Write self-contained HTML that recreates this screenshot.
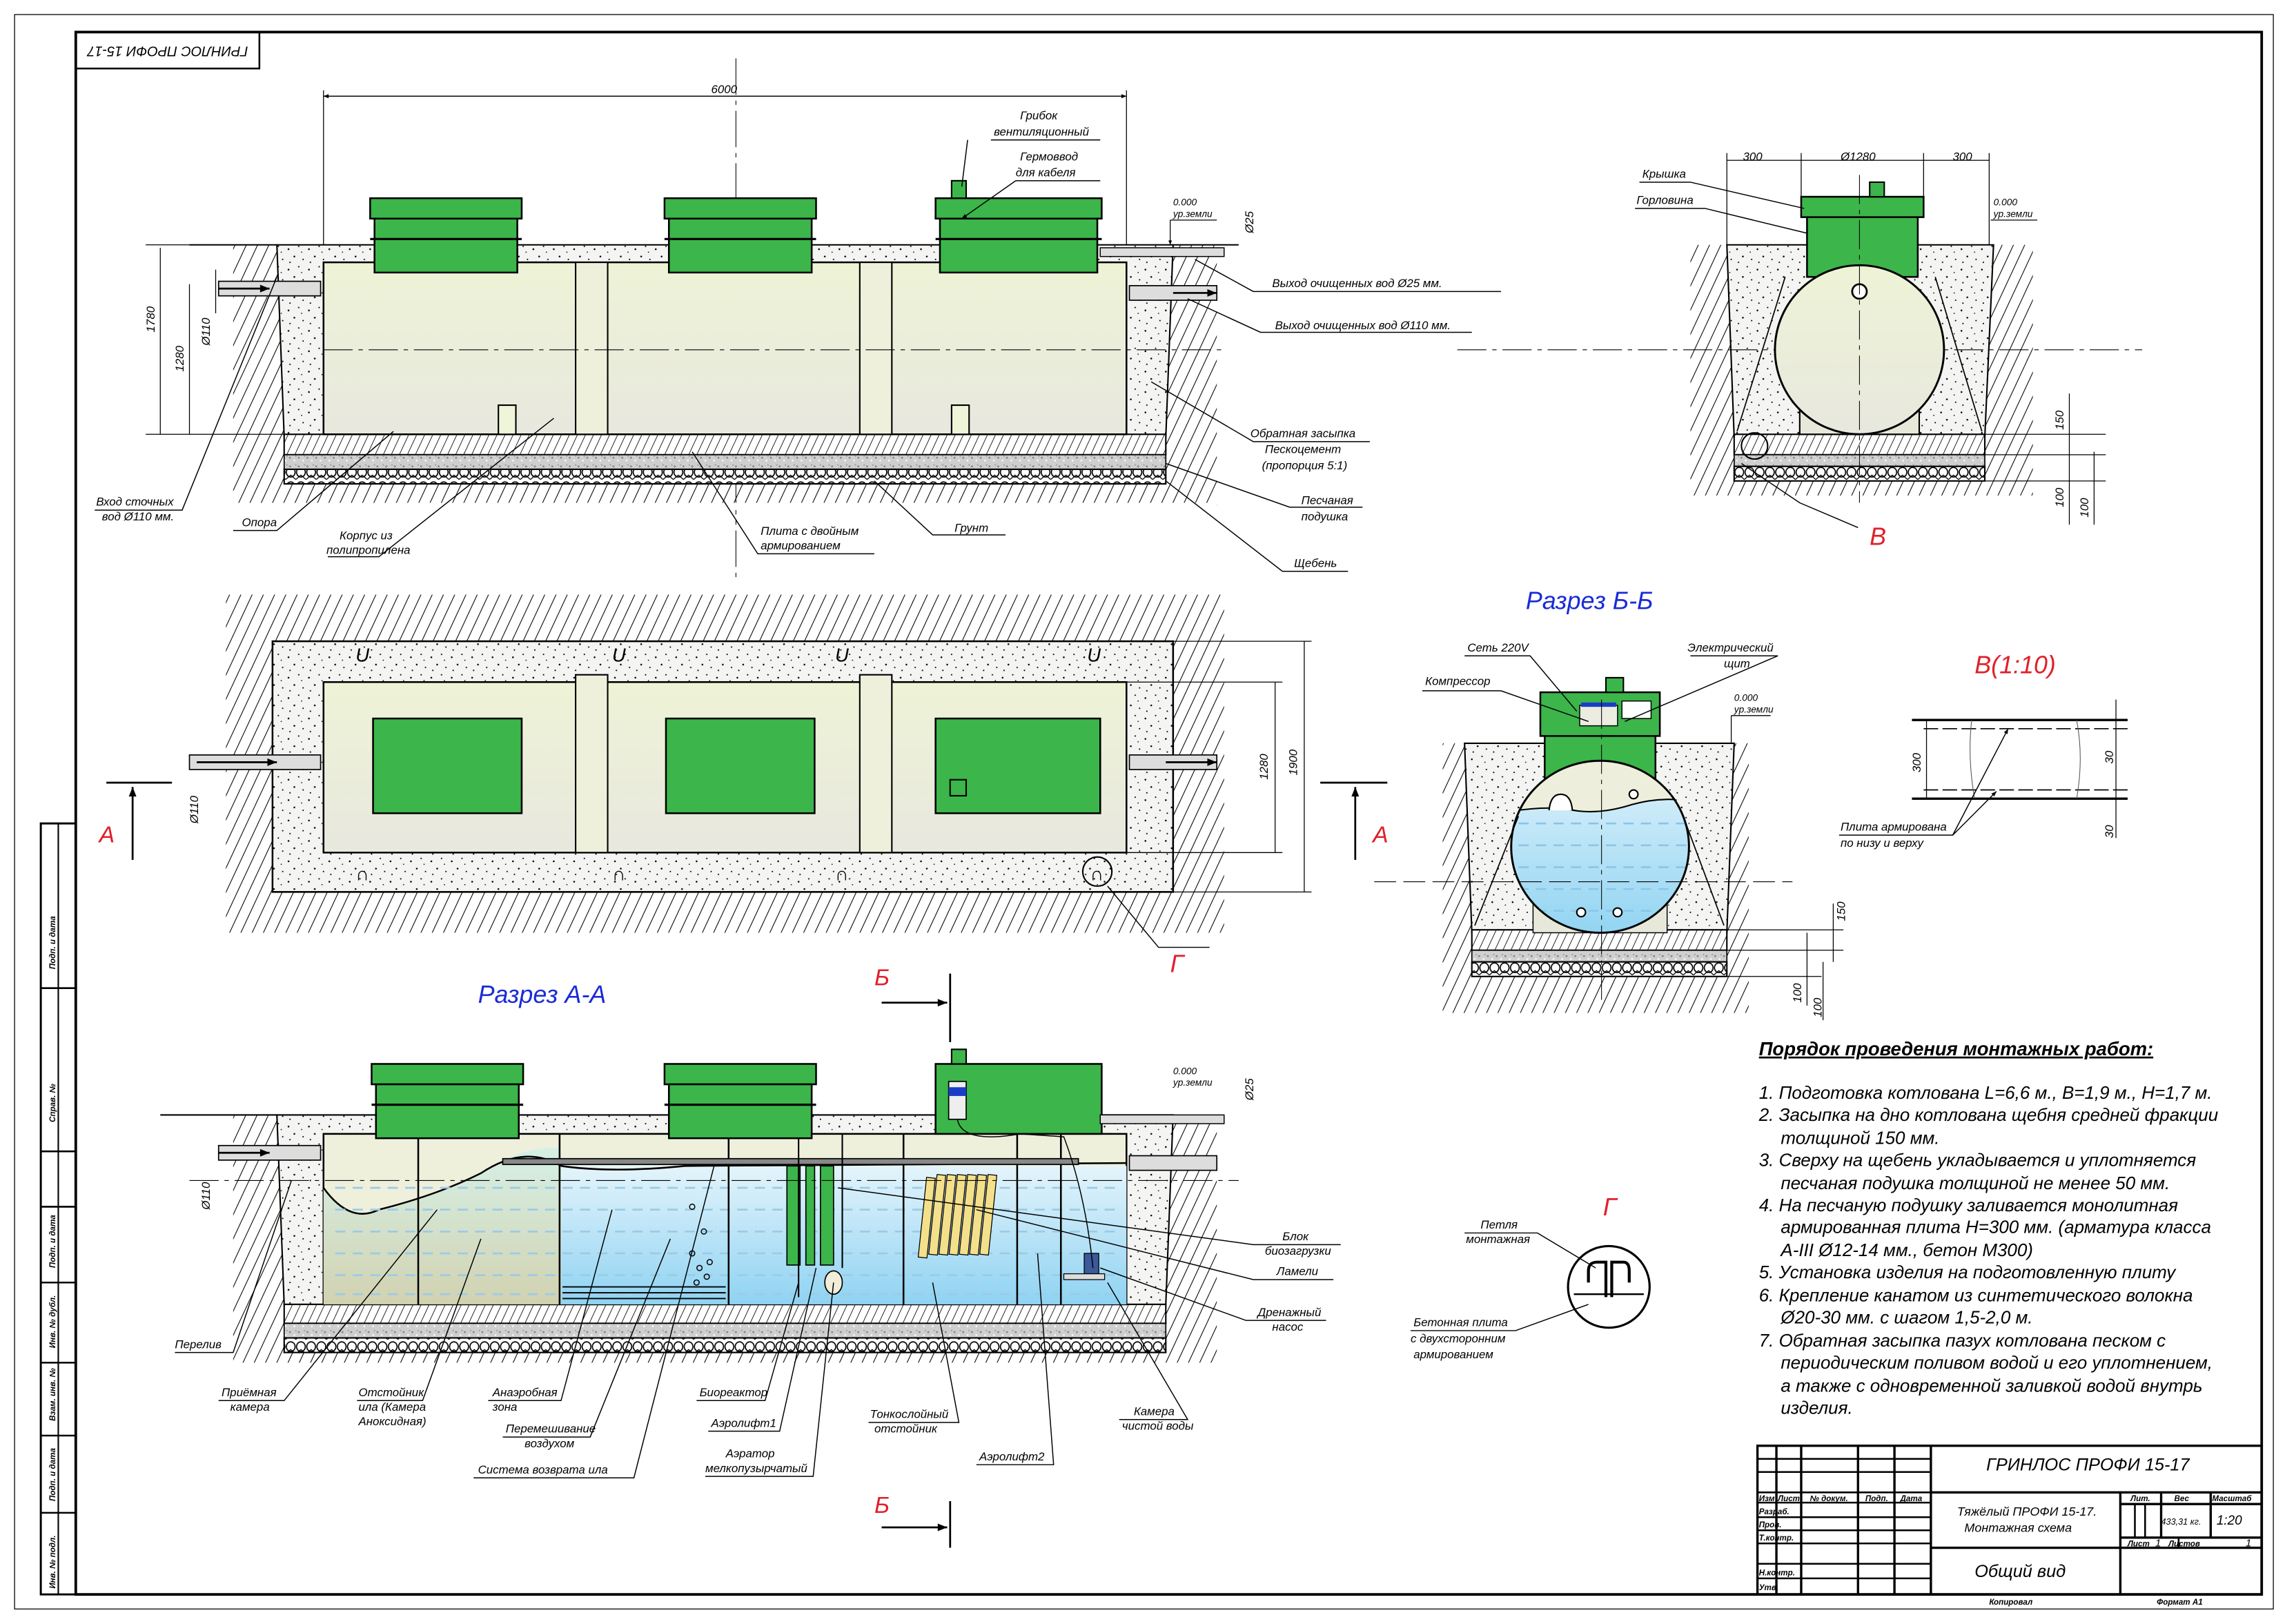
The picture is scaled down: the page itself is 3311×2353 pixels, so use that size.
<!DOCTYPE html>
<html><head><meta charset="utf-8"><style>
html,body{margin:0;padding:0;background:#fff}
svg{display:block}
text{font-family:"Liberation Sans",sans-serif;font-style:italic;fill:#000}
</style></head><body>
<svg width="3311" height="2353" viewBox="0 0 1568 1114.3" preserveAspectRatio="none" xmlns="http://www.w3.org/2000/svg">
<defs>
<pattern id="hat" width="7" height="7" patternUnits="userSpaceOnUse" patternTransform="rotate(25)"><line x1="0" y1="0" x2="0" y2="7" stroke="#000" stroke-width="1"/></pattern>
<pattern id="slab" width="5" height="5" patternUnits="userSpaceOnUse" patternTransform="rotate(25)"><rect width="5" height="5" fill="#fff"/><line x1="0" y1="0" x2="0" y2="5" stroke="#000" stroke-width="0.8"/></pattern>
<pattern id="dots" width="14" height="14" patternUnits="userSpaceOnUse"><rect width="14" height="14" fill="#f4f4f2"/><circle cx="2" cy="3" r=".6"/><circle cx="9" cy="1" r=".5"/><circle cx="6" cy="8" r=".6"/><circle cx="12" cy="10" r=".5"/><circle cx="3" cy="12" r=".5"/><circle cx="11" cy="5" r=".4"/></pattern>
<pattern id="sand" width="6" height="6" patternUnits="userSpaceOnUse"><rect width="6" height="6" fill="#cfcfcf"/><circle cx="1" cy="2" r=".7" fill="#888"/><circle cx="4" cy="4" r=".6" fill="#fff"/><circle cx="5" cy="1" r=".5" fill="#999"/></pattern>
<pattern id="grav" width="7" height="10" patternUnits="userSpaceOnUse"><rect width="7" height="10" fill="#fff"/><ellipse cx="3.5" cy="4" rx="3" ry="3.3" fill="none" stroke="#000" stroke-width=".8"/><path d="M0 9 L3.5 6 L7 9" fill="none" stroke="#000" stroke-width=".6"/></pattern>
<linearGradient id="body" x1="0" y1="0" x2="0" y2="1"><stop offset="0" stop-color="#eef3d6"/><stop offset="1" stop-color="#e8e8de"/></linearGradient>
<linearGradient id="water" x1="0" y1="0" x2="0" y2="1"><stop offset="0" stop-color="#e4f4fb"/><stop offset="1" stop-color="#8fd3f2"/></linearGradient>
<linearGradient id="sludge" x1="0" y1="0" x2="0" y2="1"><stop offset="0" stop-color="#d6f0e6"/><stop offset="1" stop-color="#d2d2b0"/></linearGradient>
<clipPath id="ell"><ellipse cx="1098" cy="581" rx="61" ry="59"/></clipPath>
<marker id="ar" viewBox="0 0 10 10" refX="10" refY="5" markerWidth="7" markerHeight="5" orient="auto-start-reverse"><path d="M0 1L10 5L0 9z"/></marker>
<g id="lid"><rect x="0" y="0" width="104" height="14" fill="#3cb54a" stroke="#000" stroke-width="1.2"/><rect x="3" y="14" width="98" height="37" fill="#3cb54a" stroke="#000" stroke-width="1.2"/><line x1="0" y1="28" x2="104" y2="28" stroke="#000" stroke-width="1.5"/></g>
</defs>

<!-- frame -->
<rect x="10" y="10" width="1550" height="1094" fill="none" stroke="#000" stroke-width=".6"/>
<rect x="52" y="22" width="1500" height="1072" fill="none" stroke="#000" stroke-width="1.8"/>
<rect x="52" y="22" width="126" height="25" fill="none" stroke="#000" stroke-width="1.2"/>
<text x="115" y="38" font-size="9.5" text-anchor="middle" transform="rotate(180 115 35)">ГРИНЛОС ПРОФИ 15-17</text>
<rect x="28" y="565" width="24" height="529" fill="none" stroke="#000" stroke-width="1.4"/>
<line x1="40" y1="565" x2="40" y2="1094" stroke="#000" stroke-width="1"/>
<g stroke="#000" stroke-width="1.2"><line x1="28" y1="678" x2="52" y2="678"/><line x1="28" y1="790" x2="52" y2="790"/><line x1="28" y1="828" x2="52" y2="828"/><line x1="28" y1="880" x2="52" y2="880"/><line x1="28" y1="935" x2="52" y2="935"/><line x1="28" y1="985" x2="52" y2="985"/><line x1="28" y1="1038" x2="52" y2="1038"/></g>
<g font-size="5.5" font-weight="bold"><text transform="translate(38 665) rotate(-90)">Подп. и дата</text><text transform="translate(38 770) rotate(-90)">Справ. №</text><text transform="translate(38 870) rotate(-90)">Подп. и дата</text><text transform="translate(38 925) rotate(-90)">Инв. № дубл.</text><text transform="translate(38 975) rotate(-90)">Взам. инв. №</text><text transform="translate(38 1030) rotate(-90)">Подп. и дата</text><text transform="translate(38 1090) rotate(-90)">Инв. № подл.</text></g>

<!-- ===== SECTION 1 (top) ===== -->
<line x1="505" y1="40" x2="505" y2="400" stroke="#000" stroke-width=".5" stroke-dasharray="25 4 3 4"/>
<line x1="222" y1="62" x2="222" y2="180" stroke="#000" stroke-width=".6"/><line x1="773" y1="62" x2="773" y2="180" stroke="#000" stroke-width=".6"/>
<line x1="222" y1="66" x2="773" y2="66" stroke="#000" stroke-width=".7" marker-start="url(#ar)" marker-end="url(#ar)"/>
<text x="488" y="64" font-size="8">6000</text>
<rect x="160" y="168" width="675" height="180" fill="url(#hat)"/>
<rect x="160" y="345" width="675" height="5" fill="#fff"/>
<polygon points="190,168 805,168 800,300 195,300" fill="url(#dots)" stroke="#000" stroke-width="1"/>
<rect x="195" y="298" width="605" height="14" fill="url(#slab)" stroke="#000" stroke-width="1"/>
<rect x="195" y="312" width="605" height="10" fill="url(#sand)" stroke="#000" stroke-width=".8"/>
<rect x="195" y="322" width="605" height="10" fill="url(#grav)" stroke="#000" stroke-width="1"/>
<rect x="222" y="180" width="551" height="118" fill="url(#body)" stroke="#000" stroke-width="1.2"/>
<rect x="395" y="180" width="22" height="118" fill="#eef0dc" stroke="#000" stroke-width="1"/>
<rect x="590" y="180" width="22" height="118" fill="#eef0dc" stroke="#000" stroke-width="1"/>
<rect x="342" y="278" width="12" height="20" fill="#eef5d8" stroke="#000"/><rect x="653" y="278" width="12" height="20" fill="#eef5d8" stroke="#000"/>
<line x1="222" y1="240" x2="840" y2="240" stroke="#000" stroke-width=".5" stroke-dasharray="20 4 3 4"/>
<use href="#lid" x="254" y="136"/><use href="#lid" x="456" y="136"/>
<rect x="642" y="136" width="114" height="14" fill="#3cb54a" stroke="#000" stroke-width="1.2"/><rect x="645" y="150" width="108" height="37" fill="#3cb54a" stroke="#000" stroke-width="1.2"/><line x1="642" y1="164" x2="756" y2="164" stroke="#000" stroke-width="1.5"/>
<rect x="653" y="124" width="10" height="12" fill="#3cb54a" stroke="#000"/>
<rect x="150" y="193" width="70" height="10" fill="#ddd" stroke="#000" stroke-width=".8"/><line x1="150" y1="198" x2="185" y2="198" stroke="#000" stroke-width="1.3" marker-end="url(#ar)"/>
<rect x="775" y="196" width="60" height="10" fill="#ddd" stroke="#000" stroke-width=".8"/><line x1="805" y1="201" x2="835" y2="201" stroke="#000" stroke-width="1.3" marker-end="url(#ar)"/>
<rect x="755" y="170" width="85" height="6" fill="#ddd" stroke="#000" stroke-width=".7"/>
<line x1="130" y1="168" x2="190" y2="168" stroke="#000" stroke-width="1"/><line x1="805" y1="168" x2="850" y2="168" stroke="#000" stroke-width="1"/>
<g stroke="#000" stroke-width=".6"><line x1="110" y1="170" x2="110" y2="298"/><line x1="130" y1="195" x2="130" y2="298"/><line x1="148" y1="185" x2="148" y2="215"/><line x1="100" y1="168" x2="190" y2="168"/><line x1="100" y1="298" x2="195" y2="298"/></g>
<text font-size="8" transform="translate(106 228) rotate(-90)">1780</text>
<text font-size="8" transform="translate(126 255) rotate(-90)">1280</text>
<text font-size="8" transform="translate(144 237) rotate(-90)">Ø110</text>
<text font-size="8" transform="translate(860 160) rotate(-90)">Ø25</text>
<text x="805" y="141" font-size="6.5">0.000</text><text x="805" y="149" font-size="6.5">ур.земли</text>
<line x1="803" y1="151" x2="835" y2="151" stroke="#000" stroke-width=".6"/><line x1="803" y1="151" x2="803" y2="168" stroke="#000" stroke-width=".6" marker-end="url(#ar)"/>
<g font-size="8">
<text x="700" y="82">Грибок</text><text x="682" y="93">вентиляционный</text>
<text x="700" y="110">Гермоввод</text><text x="697" y="121">для кабеля</text>
<text x="873" y="197">Выход очищенных вод Ø25 мм.</text>
<text x="875" y="226">Выход очищенных вод Ø110 мм.</text>
<text x="858" y="300">Обратная засыпка</text><text x="868" y="311">Пескоцемент</text><text x="866" y="322">(пропорция 5:1)</text>
<text x="893" y="346">Песчаная</text><text x="893" y="357">подушка</text>
<text x="888" y="389">Щебень</text>
<text x="655" y="365">Грунт</text>
<text x="522" y="367">Плита с двойным</text><text x="522" y="377">армированием</text>
<text x="233" y="370">Корпус из</text><text x="224" y="380">полипропилена</text>
<text x="166" y="361">Опора</text>
<text x="66" y="347">Вход сточных</text><text x="70" y="357">вод Ø110 мм.</text>
</g>
<g stroke="#000" stroke-width=".7" fill="none">
<polyline points="680,96 755,96"/><polyline points="697,124 755,124"/><line x1="664" y1="96" x2="660" y2="128"/><line x1="697" y1="124" x2="660" y2="150" marker-end="url(#ar)"/>
<polyline points="820,178 860,200 1030,200"/><polyline points="815,205 865,228 1010,228"/>
<polyline points="790,262 860,303 940,303"/><polyline points="800,318 885,348 935,348"/><polyline points="800,330 880,392 925,392"/>
<polyline points="600,330 640,367 690,367"/><polyline points="475,310 520,380 600,380"/><polyline points="380,287 260,382 225,382"/><polyline points="270,296 190,364 160,364"/><polyline points="190,190 125,350 65,350"/>
</g>

<!-- ===== RIGHT TOP ===== -->
<rect x="1160" y="168" width="235" height="180" fill="url(#hat)"/>
<rect x="1160" y="340" width="240" height="10" fill="#fff"/>
<polygon points="1185,168 1368,168 1362,300 1190,300" fill="url(#dots)" stroke="#000"/>
<rect x="1190" y="298" width="172" height="14" fill="url(#slab)" stroke="#000"/>
<rect x="1190" y="312" width="172" height="8" fill="url(#sand)" stroke="#000" stroke-width=".8"/>
<rect x="1190" y="320" width="172" height="10" fill="url(#grav)" stroke="#000"/>
<line x1="1000" y1="240" x2="1470" y2="240" stroke="#000" stroke-width=".5" stroke-dasharray="20 4 3 4"/>
<rect x="1240" y="140" width="76" height="50" fill="#3cb54a" stroke="#000" stroke-width="1.2"/>
<rect x="1236" y="135" width="84" height="14" fill="#3cb54a" stroke="#000" stroke-width="1.2"/>
<rect x="1283" y="125" width="10" height="10" fill="#3cb54a" stroke="#000"/>
<rect x="1235" y="268" width="82" height="30" fill="#e8e8da" stroke="#000"/>
<circle cx="1276" cy="240" r="58" fill="url(#body)" stroke="#000" stroke-width="1.4"/>
<circle cx="1276" cy="200" r="5" fill="#fff" stroke="#000" stroke-width="1.3"/>
<line x1="1276" y1="120" x2="1276" y2="345" stroke="#000" stroke-width=".5" stroke-dasharray="20 4 3 4"/>
<line x1="1192" y1="296" x2="1225" y2="190" stroke="#000" stroke-width=".8"/><line x1="1360" y1="296" x2="1328" y2="190" stroke="#000" stroke-width=".8"/>
<circle cx="1204" cy="306" r="9" fill="none" stroke="#000" stroke-width="1"/>
<g stroke="#000" stroke-width=".6"><line x1="1185" y1="110" x2="1365" y2="110"/><line x1="1185" y1="105" x2="1185" y2="168"/><line x1="1236" y1="105" x2="1236" y2="135"/><line x1="1320" y1="105" x2="1320" y2="135"/><line x1="1365" y1="105" x2="1365" y2="168"/>
<line x1="1362" y1="298" x2="1445" y2="298"/><line x1="1362" y1="312" x2="1445" y2="312"/><line x1="1362" y1="330" x2="1445" y2="330"/><line x1="1420" y1="270" x2="1420" y2="360"/><line x1="1437" y1="310" x2="1437" y2="360"/></g>
<g font-size="8"><text x="1196" y="110">300</text><text x="1263" y="110">Ø1280</text><text x="1340" y="110">300</text>
<text transform="translate(1416 295) rotate(-90)">150</text><text transform="translate(1416 348) rotate(-90)">100</text><text transform="translate(1433 355) rotate(-90)">100</text>
<text x="1127" y="122">Крышка</text><text x="1123" y="140">Горловина</text></g>
<g stroke="#000" stroke-width=".7" fill="none"><polyline points="1125,125 1160,125 1238,143"/><polyline points="1122,143 1170,143 1240,160"/><polyline points="1195,318 1235,345 1275,362"/></g>
<text x="1368" y="141" font-size="6.5">0.000</text><text x="1368" y="149" font-size="6.5">ур.земли</text>
<line x1="1366" y1="151" x2="1398" y2="151" stroke="#000" stroke-width=".6"/>
<text x="1283" y="374" font-size="17" style="fill:#e0202a">В</text>
<text x="1047" y="418" font-size="17" style="fill:#1a2bd6">Разрез Б-Б</text>

<!-- ===== SECTION 2 plan ===== -->
<rect x="155" y="408" width="685" height="232" fill="url(#hat)"/>
<rect x="187" y="440" width="618" height="172" fill="url(#dots)" stroke="#000" stroke-width="1.2"/>
<rect x="222" y="468" width="551" height="117" fill="url(#body)" stroke="#000" stroke-width="1.2"/>
<rect x="395" y="463" width="22" height="122" fill="#eef0dc" stroke="#000"/><rect x="590" y="463" width="22" height="122" fill="#eef0dc" stroke="#000"/>
<rect x="256" y="493" width="102" height="65" fill="#3cb54a" stroke="#000" stroke-width="1.2"/>
<rect x="457" y="493" width="102" height="65" fill="#3cb54a" stroke="#000" stroke-width="1.2"/>
<rect x="642" y="493" width="113" height="65" fill="#3cb54a" stroke="#000" stroke-width="1.2"/>
<rect x="652" y="535" width="11" height="11" fill="none" stroke="#000"/>
<g font-size="13" font-style="normal"><text x="244" y="454">U</text><text x="420" y="454">U</text><text x="573" y="454">U</text><text x="746" y="454">U</text>
<text x="244" y="604">∩</text><text x="420" y="604">∩</text><text x="573" y="604">∩</text><text x="748" y="604">∩</text></g>
<circle cx="753" cy="598" r="10" fill="none" stroke="#000" stroke-width="1"/>
<rect x="130" y="518" width="90" height="10" fill="#ddd" stroke="#000" stroke-width=".8"/><line x1="135" y1="523" x2="190" y2="523" stroke="#000" stroke-width="1.3" marker-end="url(#ar)"/>
<rect x="775" y="518" width="60" height="10" fill="#ddd" stroke="#000" stroke-width=".8"/><line x1="800" y1="523" x2="835" y2="523" stroke="#000" stroke-width="1.3" marker-end="url(#ar)"/>
<g stroke="#000" stroke-width=".6"><line x1="773" y1="468" x2="880" y2="468"/><line x1="773" y1="585" x2="880" y2="585"/><line x1="805" y1="440" x2="900" y2="440"/><line x1="805" y1="612" x2="900" y2="612"/><line x1="875" y1="468" x2="875" y2="585"/><line x1="895" y1="440" x2="895" y2="612"/></g>
<text transform="translate(870 535) rotate(-90)" font-size="8">1280</text><text transform="translate(890 532) rotate(-90)" font-size="8">1900</text>
<text transform="translate(136 565) rotate(-90)" font-size="8">Ø110</text>
<g stroke="#000" stroke-width="1.3"><line x1="73" y1="537" x2="118" y2="537"/><line x1="91" y1="590" x2="91" y2="540" marker-end="url(#ar)"/><line x1="906" y1="537" x2="952" y2="537"/><line x1="930" y1="590" x2="930" y2="540" marker-end="url(#ar)"/></g>
<text x="68" y="578" font-size="16" style="fill:#e0202a">А</text><text x="942" y="578" font-size="16" style="fill:#e0202a">А</text>
<polyline points="760,608 795,650 830,650" fill="none" stroke="#000" stroke-width=".7"/>
<text x="803" y="667" font-size="17" style="fill:#e0202a">Г</text>
<text x="328" y="688" font-size="17" style="fill:#1a2bd6">Разрез А-А</text>
<text x="600" y="676" font-size="16" style="fill:#e0202a">Б</text>
<g stroke="#000" stroke-width="1.3"><line x1="652" y1="668" x2="652" y2="715"/><line x1="605" y1="688" x2="650" y2="688" marker-end="url(#ar)"/><line x1="652" y1="1030" x2="652" y2="1062"/><line x1="605" y1="1048" x2="650" y2="1048" marker-end="url(#ar)"/></g>
<text x="600" y="1038" font-size="16" style="fill:#e0202a">Б</text>

<!-- ===== SECTION 3 ===== -->
<rect x="160" y="765" width="675" height="170" fill="url(#hat)"/>
<polygon points="190,765 805,765 800,895 195,895" fill="url(#dots)" stroke="#000"/>
<rect x="195" y="895" width="605" height="13" fill="url(#slab)" stroke="#000"/>
<rect x="195" y="908" width="605" height="10" fill="url(#sand)" stroke="#000" stroke-width=".8"/>
<rect x="195" y="918" width="605" height="10" fill="url(#grav)" stroke="#000"/>
<rect x="222" y="778" width="551" height="117" fill="#eef0dc" stroke="#000" stroke-width="1.2"/>
<path d="M222 815 Q240 840 260 830 Q300 820 330 805 Q360 785 385 788 L385 895 L222 895z" fill="url(#sludge)"/>
<rect x="385" y="800" width="388" height="95" fill="url(#water)"/>
<path d="M385 800 Q420 805 470 800 L773 798" fill="none" stroke="#000" stroke-width="1.2"/>
<path d="M222 815 Q240 840 260 830 Q300 820 330 805 Q360 785 385 800" fill="none" stroke="#000" stroke-width="1.2"/>
<g stroke="#9ccbe6" stroke-width="1.3" stroke-dasharray="7 5"><line x1="230" y1="815" x2="770" y2="815"/><line x1="230" y1="830" x2="770" y2="830"/><line x1="230" y1="845" x2="770" y2="845"/><line x1="230" y1="860" x2="770" y2="860"/><line x1="230" y1="875" x2="770" y2="875"/><line x1="230" y1="888" x2="770" y2="888"/></g>
<g stroke="#000" stroke-width="1.2"><line x1="287" y1="778" x2="287" y2="895"/><line x1="384" y1="778" x2="384" y2="895"/><line x1="500" y1="778" x2="500" y2="895"/><line x1="620" y1="778" x2="620" y2="895"/><line x1="698" y1="778" x2="698" y2="895"/><line x1="728" y1="778" x2="728" y2="895"/></g>
<rect x="345" y="795" width="395" height="4" fill="#888" stroke="#000" stroke-width=".8"/>
<g stroke="#000" stroke-width=".9"><line x1="386" y1="883" x2="498" y2="883"/><line x1="386" y1="887" x2="498" y2="887"/><line x1="386" y1="891" x2="498" y2="891"/></g>
<rect x="540" y="800" width="9" height="68" fill="#3cb54a" stroke="#000" stroke-width=".8"/><rect x="553" y="800" width="6" height="68" fill="#3cb54a" stroke="#000" stroke-width=".8"/><rect x="563" y="800" width="9" height="68" fill="#3cb54a" stroke="#000" stroke-width=".8"/>
<ellipse cx="572" cy="880" rx="6" ry="8" fill="#f0eed8" stroke="#000" stroke-width=".8"/>
<line x1="548" y1="778" x2="548" y2="890" stroke="#000"/><line x1="578" y1="778" x2="578" y2="870" stroke="#000"/>
<g fill="#f4e08a" stroke="#000" stroke-width=".6"><rect x="633" y="808" width="6" height="55" transform="rotate(6 636 835)"/><rect x="640" y="806" width="6" height="55" transform="rotate(6 643 835)"/><rect x="647" y="806" width="6" height="55" transform="rotate(6 650 835)"/><rect x="654" y="806" width="6" height="55" transform="rotate(6 657 835)"/><rect x="661" y="806" width="6" height="55" transform="rotate(6 664 835)"/><rect x="668" y="806" width="6" height="55" transform="rotate(6 671 835)"/><rect x="675" y="806" width="6" height="55" transform="rotate(6 678 835)"/></g>
<g fill="none" stroke="#000" stroke-width=".7"><circle cx="475" cy="860" r="1.8"/><circle cx="480" cy="870" r="1.8"/><circle cx="485" cy="876" r="1.8"/><circle cx="478" cy="880" r="1.8"/><circle cx="487" cy="866" r="1.8"/><circle cx="483" cy="845" r="1.8"/><circle cx="475" cy="828" r="1.8"/></g>
<rect x="744" y="860" width="10" height="14" fill="#3a5a9a" stroke="#000" stroke-width=".6"/><rect x="730" y="874" width="28" height="4" fill="#ddd" stroke="#000" stroke-width=".6"/>
<use href="#lid" x="255" y="730"/><use href="#lid" x="456" y="730"/>
<rect x="642" y="730" width="114" height="48" fill="#3cb54a" stroke="#000" stroke-width="1.2"/>
<rect x="653" y="720" width="10" height="10" fill="#3cb54a" stroke="#000"/>
<rect x="651" y="742" width="12" height="26" fill="#eee" stroke="#000" stroke-width=".8"/><rect x="651" y="746" width="12" height="6" fill="#1a3cc8"/>
<path d="M657 768 Q660 785 700 778 L730 780 Q745 820 750 870" fill="none" stroke="#000" stroke-width=".7"/>
<rect x="150" y="786" width="70" height="10" fill="#ddd" stroke="#000" stroke-width=".8"/><line x1="150" y1="791" x2="185" y2="791" stroke="#000" stroke-width="1.3" marker-end="url(#ar)"/>
<rect x="775" y="793" width="60" height="10" fill="#ddd" stroke="#000" stroke-width=".8"/>
<rect x="755" y="765" width="85" height="6" fill="#ddd" stroke="#000" stroke-width=".7"/>
<line x1="110" y1="765" x2="190" y2="765" stroke="#000"/>
<text x="805" y="737" font-size="6.5">0.000</text><text x="805" y="745" font-size="6.5">ур.земли</text>
<text transform="translate(860 755) rotate(-90)" font-size="8">Ø25</text>
<text transform="translate(144 830) rotate(-90)" font-size="8">Ø110</text>
<line x1="130" y1="810" x2="850" y2="810" stroke="#000" stroke-width=".5" stroke-dasharray="20 4 3 4"/>
<g font-size="8">
<text x="120" y="925">Перелив</text>
<text x="152" y="958">Приёмная</text><text x="158" y="968">камера</text>
<text x="246" y="958">Отстойник</text><text x="246" y="968">ила (Камера</text><text x="246" y="978">Аноксидная)</text>
<text x="338" y="958">Анаэробная</text><text x="338" y="968">зона</text>
<text x="347" y="983">Перемешивание</text><text x="360" y="993">воздухом</text>
<text x="328" y="1011">Система возврата ила</text>
<text x="480" y="958">Биореактор</text>
<text x="488" y="979">Аэролифт1</text>
<text x="498" y="1000">Аэратор</text><text x="484" y="1010">мелкопузырчатый</text>
<text x="597" y="973">Тонкослойный</text><text x="600" y="983">отстойник</text>
<text x="672" y="1002">Аэролифт2</text>
<text x="778" y="971">Камера</text><text x="770" y="981">чистой воды</text>
<text x="880" y="851">Блок</text><text x="868" y="861">биозагрузки</text>
<text x="876" y="875">Ламели</text>
<text x="863" y="903">Дренажный</text><text x="873" y="913">насос</text>
</g>
<g stroke="#000" stroke-width=".7" fill="none">
<polyline points="120,928 160,928 200,810"/><polyline points="150,961 195,961 300,830"/><polyline points="245,961 290,961 330,850"/><polyline points="335,961 385,961 420,830"/><polyline points="345,986 405,986 460,850"/><polyline points="325,1014 435,1014 490,800"/>
<polyline points="478,961 525,961 548,880"/><polyline points="486,982 535,982 560,870"/><polyline points="484,1013 558,1013 572,880"/><polyline points="596,976 658,976 640,880"/><polyline points="670,1005 723,1005 712,860"/><polyline points="768,974 815,974 760,880"/>
<polyline points="920,854 860,854 575,815"/><polyline points="915,878 860,878 670,830"/><polyline points="910,906 855,906 755,870"/>
</g>

<!-- ===== SECTION Б-Б lower ===== -->
<rect x="990" y="510" width="210" height="185" fill="url(#hat)"/>
<polygon points="1005,510 1190,510 1185,640 1010,640" fill="url(#dots)" stroke="#000"/>
<rect x="1010" y="638" width="175" height="14" fill="url(#slab)" stroke="#000"/>
<rect x="1010" y="652" width="175" height="8" fill="url(#sand)" stroke="#000" stroke-width=".8"/>
<rect x="1010" y="660" width="175" height="10" fill="url(#grav)" stroke="#000"/>
<rect x="1060" y="500" width="76" height="50" fill="#3cb54a" stroke="#000" stroke-width="1.2"/>
<rect x="1057" y="475" width="82" height="30" fill="#3cb54a" stroke="#000" stroke-width="1.2"/>
<rect x="1102" y="465" width="12" height="10" fill="#3cb54a" stroke="#000"/>
<rect x="1084" y="484" width="26" height="14" fill="#ecece0" stroke="#000" stroke-width=".7"/><rect x="1085" y="482" width="24" height="3" fill="#1a3cc8"/>
<rect x="1113" y="481" width="20" height="12" fill="#fff" stroke="#000" stroke-width=".7"/>
<rect x="1052" y="620" width="92" height="20" fill="#e8e8da" stroke="#000" stroke-width=".7"/>
<g clip-path="url(#ell)"><rect x="1030" y="515" width="140" height="130" fill="url(#water)"/><path d="M1030 515 L1170 515 L1170 552 Q1145 545 1120 552 Q1095 560 1075 555 Q1055 553 1030 558z" fill="#eeeedc" stroke="#000" stroke-width="1"/>
<g stroke="#8cc4e8" stroke-width="1.2" stroke-dasharray="7 5"><line x1="1030" y1="565" x2="1170" y2="565"/><line x1="1030" y1="580" x2="1170" y2="580"/><line x1="1030" y1="595" x2="1170" y2="595"/><line x1="1030" y1="610" x2="1170" y2="610"/><line x1="1030" y1="625" x2="1170" y2="625"/></g></g>
<ellipse cx="1098" cy="581" rx="61" ry="59" fill="none" stroke="#000" stroke-width="1.4"/>
<path d="M1063 556 Q1064 545 1071 545 Q1078 545 1079 556" fill="#fff" stroke="#000"/>
<circle cx="1121" cy="545" r="3" fill="#fff" stroke="#000"/><circle cx="1085" cy="626" r="3" fill="#fff" stroke="#000"/><circle cx="1110" cy="626" r="3" fill="#fff" stroke="#000"/>
<line x1="1099" y1="480" x2="1099" y2="690" stroke="#000" stroke-width=".5" stroke-dasharray="20 4 3 4"/>
<line x1="943" y1="605" x2="1230" y2="605" stroke="#000" stroke-width=".5" stroke-dasharray="15 5"/>
<line x1="1012" y1="635" x2="1042" y2="560" stroke="#000" stroke-width=".8"/><line x1="1183" y1="635" x2="1155" y2="560" stroke="#000" stroke-width=".8"/>
<g stroke="#000" stroke-width=".6"><line x1="1185" y1="638" x2="1265" y2="638"/><line x1="1185" y1="652" x2="1265" y2="652"/><line x1="1185" y1="670" x2="1250" y2="670"/><line x1="1258" y1="620" x2="1258" y2="660"/><line x1="1240" y1="640" x2="1240" y2="690"/><line x1="1251" y1="660" x2="1251" y2="700"/></g>
<g font-size="8"><text transform="translate(1266 632) rotate(-90)">150</text><text transform="translate(1236 688) rotate(-90)">100</text><text transform="translate(1250 698) rotate(-90)">100</text>
<text x="1007" y="447">Сеть 220V</text><text x="1158" y="447">Электрический</text><text x="1183" y="458">щит</text><text x="978" y="470">Компрессор</text></g>
<text x="1190" y="481" font-size="6.5">0.000</text><text x="1190" y="489" font-size="6.5">ур.земли</text>
<line x1="1188" y1="491" x2="1215" y2="491" stroke="#000" stroke-width=".6"/><line x1="1188" y1="491" x2="1188" y2="510" stroke="#000" stroke-width=".6"/>
<g stroke="#000" stroke-width=".7" fill="none"><polyline points="1005,450 1050,450 1082,488"/><polyline points="1160,450 1220,450 1115,495"/><polyline points="976,474 1030,474 1090,495"/></g>

<!-- В(1:10) detail -->
<text x="1355" y="462" font-size="17" style="fill:#e0202a">В(1:10)</text>
<g stroke="#000"><line x1="1312" y1="494" x2="1460" y2="494" stroke-width="1.6"/><line x1="1312" y1="548" x2="1460" y2="548" stroke-width="1.6"/>
<line x1="1320" y1="500" x2="1460" y2="500" stroke-width=".8" stroke-dasharray="10 3"/><line x1="1320" y1="542" x2="1460" y2="542" stroke-width=".8" stroke-dasharray="10 3"/>
<line x1="1322" y1="494" x2="1322" y2="548" stroke-width=".6"/><line x1="1452" y1="480" x2="1452" y2="575" stroke-width=".6"/></g>
<path d="M1353 494 Q1350 520 1355 548 M1425 494 Q1430 520 1425 548" fill="none" stroke="#555" stroke-width=".5"/>
<text transform="translate(1318 530) rotate(-90)" font-size="8">300</text>
<text transform="translate(1450 524) rotate(-90)" font-size="8">30</text><text transform="translate(1450 575) rotate(-90)" font-size="8">30</text>
<text x="1263" y="570" font-size="8">Плита армирована</text><text x="1263" y="581" font-size="8">по низу и верху</text>
<g stroke="#000" stroke-width=".7" fill="none"><polyline points="1262,573 1340,573 1378,500" marker-end="url(#ar)"/><polyline points="1340,573 1370,543" marker-end="url(#ar)"/></g>

<!-- Г detail -->
<text x="1100" y="834" font-size="17" style="fill:#e0202a">Г</text>
<circle cx="1104" cy="883" r="28" fill="#fff" stroke="#000" stroke-width="1.5"/>
<path d="M1080 888 L1128 888" stroke="#000" stroke-width="1.2"/><path d="M1090 880 L1090 872 Q1090 866 1096 866 L1102 866 L1102 890 M1106 890 L1106 866 L1114 866 Q1118 866 1118 872 L1118 880" fill="none" stroke="#000" stroke-width="2"/>
<g font-size="8"><text x="1016" y="843">Петля</text><text x="1006" y="853">монтажная</text><text x="970" y="910">Бетонная плита</text><text x="968" y="921">с двухсторонним</text><text x="970" y="932">армированием</text></g>
<g stroke="#000" stroke-width=".7" fill="none"><polyline points="1005,846 1055,846 1095,870"/><polyline points="968,913 1040,913 1090,895"/></g>

<!-- Notes -->
<text x="1207" y="724" font-size="13" font-weight="bold" text-decoration="underline">Порядок проведения монтажных работ:</text>
<g font-size="12.3">
<text x="1207" y="754">1. Подготовка котлована L=6,6 м., B=1,9 м., H=1,7 м.</text>
<text x="1207" y="769">2. Засыпка на дно котлована щебня средней фракции</text>
<text x="1222" y="785">толщиной 150 мм.</text>
<text x="1207" y="800">3. Сверху на щебень укладывается и уплотняется</text>
<text x="1222" y="816">песчаная подушка толщиной не менее 50 мм.</text>
<text x="1207" y="831">4. На песчаную подушку заливается монолитная</text>
<text x="1222" y="846">армированная плита H=300 мм. (арматура класса</text>
<text x="1222" y="862">А-III Ø12-14 мм., бетон М300)</text>
<text x="1207" y="877">5. Установка изделия на подготовленную плиту</text>
<text x="1207" y="893">6. Крепление канатом из синтетического волокна</text>
<text x="1222" y="908">Ø20-30 мм. с шагом 1,5-2,0 м.</text>
<text x="1207" y="924">7. Обратная засыпка пазух котлована песком с</text>
<text x="1222" y="939">периодическим поливом водой и его уплотнением,</text>
<text x="1222" y="955">а также с одновременной заливкой водой внутрь</text>
<text x="1222" y="970">изделия.</text>
</g>

<!-- Title block -->
<g stroke="#000" stroke-width="1.6" fill="none">
<rect x="1206" y="992" width="346" height="102"/>
<line x1="1219" y1="992" x2="1219" y2="1094"/><line x1="1236" y1="992" x2="1236" y2="1094"/><line x1="1275" y1="992" x2="1275" y2="1094"/><line x1="1300" y1="992" x2="1300" y2="1094"/><line x1="1325" y1="992" x2="1325" y2="1094"/>
<line x1="1325" y1="1024" x2="1552" y2="1024"/><line x1="1325" y1="1062" x2="1552" y2="1062"/><line x1="1455" y1="1024" x2="1455" y2="1094"/>
<line x1="1455" y1="1032" x2="1552" y2="1032"/><line x1="1455" y1="1055" x2="1552" y2="1055"/><line x1="1483" y1="1024" x2="1483" y2="1055"/><line x1="1517" y1="1024" x2="1517" y2="1055"/>
</g>
<g stroke="#000" stroke-width="1.2"><line x1="1206" y1="1001" x2="1325" y2="1001"/><line x1="1206" y1="1010" x2="1325" y2="1010"/><line x1="1206" y1="1024" x2="1325" y2="1024"/><line x1="1206" y1="1031" x2="1325" y2="1031"/><line x1="1206" y1="1041" x2="1325" y2="1041"/><line x1="1206" y1="1050" x2="1325" y2="1050"/><line x1="1206" y1="1059" x2="1325" y2="1059"/><line x1="1206" y1="1073" x2="1325" y2="1073"/><line x1="1206" y1="1083" x2="1325" y2="1083"/>
<line x1="1465" y1="1032" x2="1465" y2="1055"/><line x1="1472" y1="1032" x2="1472" y2="1055"/><line x1="1495" y1="1055" x2="1495" y2="1062"/></g>
<g font-size="5.5" font-weight="bold"><text x="1207" y="1030">Изм</text><text x="1220" y="1030">Лист</text><text x="1242" y="1030">№ докум.</text><text x="1280" y="1030">Подп.</text><text x="1304" y="1030">Дата</text>
<text x="1207" y="1039">Разраб.</text><text x="1207" y="1048">Пров.</text><text x="1207" y="1057">Т.контр.</text><text x="1207" y="1081">Н.контр.</text><text x="1207" y="1091">Утв.</text>
<text x="1462" y="1030">Лит.</text><text x="1492" y="1030">Вес</text><text x="1518" y="1030">Масштаб</text><text x="1460" y="1061">Лист</text><text x="1488" y="1061">Листов</text>
<text x="1365" y="1101">Копировал</text><text x="1480" y="1101">Формат А1</text></g>
<g font-size="12"><text x="1363" y="1009">ГРИНЛОС ПРОФИ 15-17</text></g>
<g font-size="8.5"><text x="1343" y="1040">Тяжёлый ПРОФИ 15-17.</text><text x="1348" y="1051">Монтажная схема</text></g>
<text x="1483" y="1046" font-size="6">433,31 кг.</text><text x="1521" y="1046" font-size="9">1:20</text>
<text x="1479" y="1061" font-size="7">1</text><text x="1541" y="1061" font-size="7">1</text>
<text x="1355" y="1082" font-size="12">Общий вид</text>
</svg>
</body></html>
